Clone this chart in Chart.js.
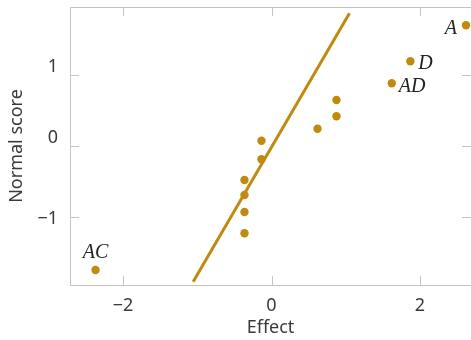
<!DOCTYPE html>
<html lang="en">
<head>
    <meta charset="UTF-8">
    <title>Normal probability plot of effects</title>
    <script src="https://cdn.jsdelivr.net/npm/chart.js@4.4.0/dist/chart.umd.min.js"></script>
    <style>
        html, body { margin: 0; padding: 0; background: #fff; }
        .chart-box { position: relative; width: 471px; height: 340px; }
    </style>
</head>
<body>
    <div class="chart-box">
        <canvas id="effectsChart"></canvas>
    </div>

    <script>
        // Effects and their normal scores
        const effects = [2.62, 1.87, 1.62, 0.875, 0.875, 0.62, -0.135, -0.135, -0.364, -0.364, -0.364, -0.364, -2.37];
        const scores = [1.707, 1.198, 0.887, 0.651, 0.42, 0.245, 0.075, -0.188, -0.481, -0.693, -0.934, -1.235, -1.754];
        const effectNames = ['A', 'D', 'AD', '', '', '', '', '', '', '', '', '', 'AC'];

        // Reference line through the bulk of the effects
        const lineX = [-1.055, 1.05];
        const lineY = [-1.92, 1.877];

        const xTicks = [-2, 0, 2];
        const yTicks = [-1, 0, 1];

        const gold = '#C08A10';
        const frameColor = '#c4c4c4';
        const textColor = '#3a3a3a';
        const sansFont = "'Noto Sans', 'DejaVu Sans', sans-serif";

        // where each name goes relative to its point
        const labelPlacement = {
            A: { dx: -9, dy: 3.5, align: 'right' },
            D: { dx: 8, dy: 2, align: 'left' },
            AD: { dx: 7, dy: 3.5, align: 'left' },
            AC: { dx: 0, dy: -17.5, align: 'center' }
        };
        // vertical nudge of the y tick labels, as in the original
        const yLabelNudge = { '1': -8, '0': -8.5, '-1': 2 };

        const fmt = v => (v < 0 ? '\u2212' + Math.abs(v) : String(v));

        const noPadding = s => {
            s.paddingTop = 0;
            s.paddingBottom = 0;
            s.paddingLeft = 0;
            s.paddingRight = 0;
        };

        // frame on top, inward tick marks on all four sides, y labels and effect names
        const framePlugin = {
            id: 'frame',
            afterDraw(chart) {
                const { ctx, chartArea: a, scales } = chart;
                const tick = 9;
                ctx.save();
                ctx.strokeStyle = frameColor;
                ctx.lineWidth = 1;
                ctx.beginPath();
                ctx.moveTo(a.left, a.top + 0.5);
                ctx.lineTo(a.right, a.top + 0.5);
                xTicks.forEach(v => {
                    const px = Math.round(scales.x.getPixelForValue(v)) + 0.5;
                    ctx.moveTo(px, a.bottom);
                    ctx.lineTo(px, a.bottom - tick);
                    ctx.moveTo(px, a.top);
                    ctx.lineTo(px, a.top + tick);
                });
                yTicks.forEach(v => {
                    const py = Math.round(scales.y.getPixelForValue(v)) + 0.5;
                    ctx.moveTo(a.left, py);
                    ctx.lineTo(a.left + tick, py);
                    ctx.moveTo(a.right, py);
                    ctx.lineTo(a.right - tick, py);
                });
                ctx.stroke();

                ctx.fillStyle = textColor;
                ctx.font = '18px ' + sansFont;
                ctx.textAlign = 'right';
                ctx.textBaseline = 'middle';
                yTicks.forEach(v => {
                    const py = scales.y.getPixelForValue(v) + yLabelNudge[String(v)];
                    ctx.fillText(fmt(v), a.left - 12, py);
                });

                const meta = chart.getDatasetMeta(1);
                ctx.fillStyle = '#222';
                ctx.font = "italic 20px 'Liberation Serif', 'DejaVu Serif', serif";
                effectNames.forEach((name, i) => {
                    if (!name) return;
                    const pt = meta.data[i];
                    const p = labelPlacement[name];
                    ctx.textAlign = p.align;
                    ctx.fillText(name, pt.x + p.dx, pt.y + p.dy);
                });
                ctx.restore();
            }
        };

        function initializeChart() {
            const ctx = document.getElementById('effectsChart').getContext('2d');
            new Chart(ctx, {
                type: 'scatter',
                data: {
                    datasets: [
                        {
                            type: 'line',
                            data: lineX.map((x, i) => ({ x: x, y: lineY[i] })),
                            borderColor: gold,
                            borderWidth: 3,
                            pointRadius: 0,
                            fill: false
                        },
                        {
                            data: effects.map((x, i) => ({ x: x, y: scores[i] })),
                            backgroundColor: gold,
                            borderColor: gold,
                            pointRadius: 4.2,
                            borderWidth: 0
                        }
                    ]
                },
                options: {
                    responsive: true,
                    maintainAspectRatio: false,
                    animation: false,
                    layout: { autoPadding: false, padding: { top: 7, right: 0, left: 0, bottom: 0 } },
                    plugins: {
                        legend: { display: false },
                        tooltip: { enabled: false }
                    },
                    scales: {
                        x: {
                            type: 'linear',
                            min: -2.714,
                            max: 2.687,
                            afterBuildTicks: s => { s.ticks = xTicks.map(v => ({ value: v })); },
                            afterFit: s => { s.height = 55; noPadding(s); },
                            grid: { display: false },
                            border: { display: true, color: frameColor, width: 1 },
                            ticks: {
                                padding: 2,
                                color: textColor,
                                font: { family: sansFont, size: 18 },
                                maxRotation: 0,
                                callback: fmt
                            },
                            title: {
                                display: true,
                                text: 'Effect',
                                color: textColor,
                                font: { family: sansFont, size: 18 },
                                padding: { top: 0, bottom: 1 }
                            }
                        },
                        y: {
                            type: 'linear',
                            min: -1.966,
                            max: 1.966,
                            afterBuildTicks: s => { s.ticks = yTicks.map(v => ({ value: v })); },
                            afterFit: s => { s.width = 70; noPadding(s); },
                            grid: { display: false },
                            border: { display: true, color: frameColor, width: 1 },
                            ticks: { display: false },
                            title: {
                                display: true,
                                text: 'Normal score',
                                color: textColor,
                                font: { family: sansFont, size: 18 },
                                padding: { top: 6, bottom: 0 }
                            }
                        }
                    }
                },
                plugins: [framePlugin]
            });
        }

        document.addEventListener('DOMContentLoaded', initializeChart);
    </script>
</body>
</html>
